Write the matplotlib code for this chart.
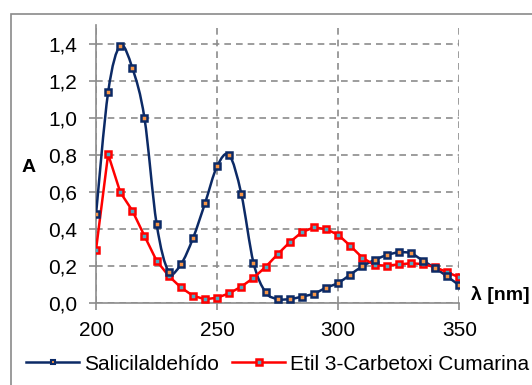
import matplotlib
matplotlib.use("Agg")
import matplotlib.pyplot as plt
from matplotlib.path import Path
from matplotlib.patches import PathPatch, Rectangle

# Wavelength (nm) and absorbance
wavelengths = [200, 205, 210, 215, 220, 225, 230, 235, 240, 245, 250,
               255, 260, 265, 270, 275, 280, 285, 290, 295, 300,
               305, 310, 315, 320, 325, 330, 335, 340, 345, 350]
salicilaldehido = [0.48, 1.14, 1.39, 1.27, 1.00, 0.43, 0.17, 0.21, 0.35, 0.54, 0.74,
                   0.80, 0.59, 0.22, 0.06, 0.023, 0.023, 0.036, 0.052, 0.084, 0.11,
                   0.155, 0.20, 0.234, 0.26, 0.275, 0.27, 0.23, 0.19, 0.145, 0.097]
cumarina = [0.29, 0.805, 0.60, 0.50, 0.364, 0.23, 0.148, 0.086, 0.041, 0.022, 0.03,
            0.054, 0.09, 0.137, 0.196, 0.265, 0.33, 0.384, 0.41, 0.40, 0.37,
            0.31, 0.246, 0.207, 0.203, 0.21, 0.216, 0.212, 0.195, 0.168, 0.14]

labels = ["Salicilaldehído", "Etil 3-Carbetoxi Cumarina"]
yticks = [0.0, 0.2, 0.4, 0.6, 0.8, 1.0, 1.2, 1.4]
xticks = [200, 250, 300, 350]

NAVY = "#0c2a66"
RED = "#ff0000"
GRID = "#8c8c8c"


def smooth_path(xs, ys):
    # Excel-style smoothed line: cubic Bezier segments through each point
    pts = list(zip(xs, ys))
    verts = [pts[0]]
    codes = [Path.MOVETO]
    n = len(pts)
    for i in range(n - 1):
        p0 = pts[i - 1] if i > 0 else pts[i]
        p1 = pts[i]
        p2 = pts[i + 1]
        p3 = pts[i + 2] if i + 2 < n else pts[i + 1]
        c1 = (p1[0] + (p2[0] - p0[0]) / 6, p1[1] + (p2[1] - p0[1]) / 6)
        c2 = (p2[0] - (p3[0] - p1[0]) / 6, p2[1] - (p3[1] - p1[1]) / 6)
        verts += [c1, c2, p2]
        codes += [Path.CURVE4] * 3
    return Path(verts, codes)


def main() -> None:
    plt.rcParams["font.family"] = "Liberation Sans"
    fig = plt.figure(figsize=(5.32, 3.85), dpi=100)
    ax = fig.add_axes([0.1805, 0.2122, 0.6828, 0.7216])

    # Outer chart border
    fig.add_artist(Rectangle((11 / 532, -0.05), 1.0, 1.05 - 14 / 385,
                             transform=fig.transFigure, fill=False,
                             edgecolor="#8a8a8a", linewidth=1.2))

    # Salicilaldehido: smoothed line with square markers
    ax.add_patch(PathPatch(smooth_path(wavelengths, salicilaldehido),
                           facecolor="none", edgecolor=NAVY, linewidth=1.8,
                           zorder=3))
    ax.plot(wavelengths, salicilaldehido, linestyle="none", marker="s",
            markersize=4.2, markeredgewidth=1.8, markeredgecolor=NAVY,
            markerfacecolor="#f79646", zorder=4)
    blue_handle, = ax.plot([], [], color=NAVY, linewidth=1.8, marker="s",
                           markersize=3.5, markeredgewidth=1.5,
                           markeredgecolor=NAVY, markerfacecolor="#f79646")

    red_handle, = ax.plot(wavelengths, cumarina, color=RED, linewidth=1.8,
                          marker="s", markersize=4.2, markeredgewidth=1.8,
                          markeredgecolor=RED, markerfacecolor="#4bacc6",
                          zorder=3)

    ax.set_xlim(200, 350)
    ax.set_ylim(0, 1.5)
    ax.set_xticks(xticks)
    ax.set_yticks(yticks)
    ax.set_yticklabels([f"{v:.1f}".replace(".", ",") for v in yticks])
    ax.grid(True, color=GRID, linestyle=(0, (4, 3)), linewidth=1.2)
    ax.set_axisbelow(True)

    for side in ("top", "right"):
        ax.spines[side].set_visible(False)
    for side in ("left", "bottom"):
        ax.spines[side].set_color(GRID)
        ax.spines[side].set_linewidth(1.2)
    ax.tick_params(colors=GRID, labelcolor="black", labelsize=15,
                   length=5, width=1.2)
    ax.tick_params(axis="x", pad=8)
    ax.tick_params(axis="y", pad=8.5)

    fig.text(22 / 532, 1 - 167 / 385, "A", fontsize=14, fontweight="bold",
             va="center", ha="left")
    fig.text(471 / 532, 1 - 295 / 385, "λ [nm]", fontsize=14,
             fontweight="bold", va="center", ha="left")

    fig.legend([blue_handle, red_handle], labels, loc="center left",
               bbox_to_anchor=(26 / 532, 1 - 364 / 385), ncol=2, frameon=False,
               fontsize=15, handlelength=2.55, handletextpad=0.25,
               columnspacing=0.62, borderaxespad=0, borderpad=0)

    fig.savefig("out.png", dpi=100)


if __name__ == "__main__":
    main()
